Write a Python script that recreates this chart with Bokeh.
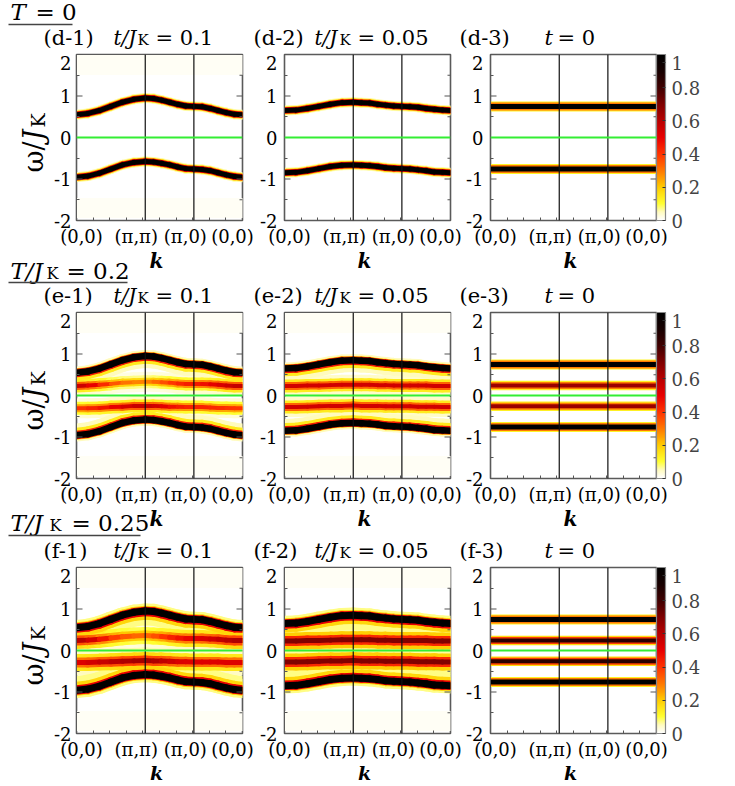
import numpy as np
from bokeh.plotting import figure
from bokeh.models import FixedTicker, Span, ColorBar, LinearColorMapper, ColumnDataSource
from bokeh.layouts import row, column
from bokeh.embed import file_html
from bokeh.resources import INLINE
from bokeh.core.properties import value

# ---------------- data ----------------
k_dist = [0, 0.236, 0.471, 0.707, 0.943, 1.179, 1.414, 1.581, 1.748, 1.914,
          2.081, 2.247, 2.414, 2.581, 2.748, 2.914, 3.081, 3.247, 3.414]
k_tick_pos = [0, 1.414, 2.414, 3.414]
k_tick_labels = ["(0,0)", "(π,π)", "(π,0)", "(0,0)"]
k_flat = [0, 3.414]

w_ticks = [-2, -1, 0, 1, 2]
w_tick_labels = ["-2", "-1", "0", "1", "2"]
w_minor = [-1.5, -0.5, 0.5, 1.5]
cb_ticks = [0, 0.2, 0.4, 0.6, 0.8, 1]
cb_tick_labels = ["0", "0.2", "0.4", "0.6", "0.8", "1"]

# outer (Kondo-split) bands
up_t01 = [0.55, 0.58, 0.65, 0.75, 0.85, 0.92, 0.95, 0.94, 0.90, 0.85,
          0.80, 0.76, 0.75, 0.74, 0.70, 0.65, 0.60, 0.56, 0.55]
lo_t01 = [-0.96, -0.93, -0.86, -0.76, -0.66, -0.60, -0.58, -0.59, -0.62, -0.66,
          -0.71, -0.75, -0.76, -0.77, -0.80, -0.85, -0.90, -0.94, -0.96]
up_t005 = [0.65, 0.66, 0.70, 0.75, 0.80, 0.84, 0.85, 0.84, 0.83, 0.80,
           0.78, 0.76, 0.75, 0.74, 0.73, 0.70, 0.68, 0.66, 0.65]
lo_t005 = [-0.85, -0.84, -0.80, -0.75, -0.70, -0.67, -0.66, -0.67, -0.68, -0.70,
           -0.73, -0.74, -0.75, -0.76, -0.78, -0.80, -0.83, -0.84, -0.85]
# thermally excited inner bands
in_up_e1 = [0.23, 0.24, 0.26, 0.28, 0.31, 0.32, 0.33, 0.33, 0.32, 0.31,
            0.29, 0.28, 0.28, 0.28, 0.27, 0.26, 0.24, 0.23, 0.23]
in_lo_e1 = [-0.31, -0.31, -0.30, -0.28, -0.27, -0.25, -0.25, -0.25, -0.26, -0.27,
            -0.27, -0.28, -0.28, -0.28, -0.29, -0.30, -0.30, -0.31, -0.31]
in_up_f1 = [0.24, 0.25, 0.27, 0.30, 0.33, 0.35, 0.36, 0.35, 0.34, 0.32,
            0.30, 0.29, 0.29, 0.29, 0.28, 0.27, 0.25, 0.24, 0.24]
in_lo_f1 = [-0.29, -0.29, -0.28, -0.27, -0.26, -0.25, -0.24, -0.25, -0.25, -0.26,
            -0.27, -0.27, -0.28, -0.28, -0.28, -0.28, -0.29, -0.29, -0.29]
in_up_t005 = [0.23, 0.23, 0.24, 0.24, 0.25, 0.26, 0.26, 0.26, 0.26, 0.25,
              0.25, 0.24, 0.24, 0.24, 0.24, 0.24, 0.23, 0.23, 0.23]
in_lo_t005 = [-0.28, -0.28, -0.27, -0.26, -0.25, -0.25, -0.24, -0.25, -0.25, -0.25,
              -0.26, -0.26, -0.26, -0.26, -0.27, -0.27, -0.27, -0.28, -0.28]
ghost_up = [1.75, 1.75]
ghost_lo = [-1.70, -1.70]
flat_up = [0.75, 0.75]
flat_lo = [-0.76, -0.76]
flat_in_up = [0.24, 0.24]
flat_in_lo = [-0.26, -0.26]

# spectral weights (0..1)
w_in_up_e1 = [0.58, 0.54, 0.46, 0.38, 0.32, 0.29, 0.28, 0.30, 0.34, 0.38,
              0.41, 0.44, 0.45, 0.46, 0.49, 0.52, 0.55, 0.57, 0.58]
w_in_lo_e1 = [0.40, 0.42, 0.45, 0.48, 0.52, 0.56, 0.58, 0.56, 0.53, 0.49,
              0.46, 0.44, 0.43, 0.43, 0.43, 0.42, 0.41, 0.40, 0.40]
w_in_up_f1 = [0.62, 0.58, 0.50, 0.42, 0.36, 0.33, 0.32, 0.34, 0.38, 0.42,
              0.45, 0.48, 0.50, 0.52, 0.54, 0.56, 0.59, 0.61, 0.62]
w_in_lo_f1 = [0.52, 0.53, 0.56, 0.58, 0.61, 0.63, 0.64, 0.63, 0.60, 0.57,
              0.54, 0.52, 0.52, 0.52, 0.52, 0.52, 0.52, 0.52, 0.52]
w_in_e2 = 0.55
w_in_f2 = 0.70
w_in_e3 = 0.65
w_in_f3 = 0.85
w_ghost = 0.006

row_letters = ["d", "e", "f"]
col_tvalues = ["0.1", "0.05", "0"]
row_Tvalues = ["0", "0.2", "0.25"]

# ---------------- styling ----------------
FONT = "DejaVu Serif"
FW, FH = 166, 166
XMAX = 3.414
BASE_SHIFT = 0.38   # text anchor correction (fraction of font size)
anchors = [(0.0, "#ffffff"), (0.05, "#fffbc0"), (0.1, "#ffff30"), (0.2, "#ffcc00"),
           (0.25, "#ffa000"), (0.3, "#ff7700"), (0.4, "#ff3300"), (0.5, "#e80000"),
           (0.6, "#b80000"), (0.7, "#800000"), (0.8, "#400000"), (0.9, "#180000"),
           (1.0, "#000000")]


def _hex(c):
    return [int(c[i:i + 2], 16) for i in (1, 3, 5)]


PAL = []
for i in range(256):
    v = i / 255
    for j in range(len(anchors) - 1):
        a, ca = anchors[j]
        b, cb = anchors[j + 1]
        if a <= v <= b:
            f = (v - a) / (b - a)
            A, B = _hex(ca), _hex(cb)
            PAL.append("#%02x%02x%02x" % tuple(int(round(A[m] + (B[m] - A[m]) * f)) for m in range(3)))
            break


def pal(v):
    return PAL[int(round(min(max(v, 0), 1) * 255))]


# layers: (line width px, fraction of weight, inward shift in omega)
STY = {
    "T0": [(10, 0.06, 0), (8, 0.18, 0), (6.5, 0.5, 0), (5, 1.0, 0)],
    "flat": [(10, 0.12, 0), (8, 0.3, 0), (5, 1.0, 0)],
    "flat_in": [(9.5, 0.2, 0), (7, 0.45, 0), (4, 1.0, 0)],
    "T02out": [(18, 0.05, 0.07), (12, 0.14, 0.04), (8.5, 0.45, 0.01), (6.5, 1.0, 0)],
    "T02in": [(20, 0.08, 0), (13, 0.25, 0), (8, 0.6, 0), (4, 1.0, 0)],
    "T025out": [(22, 0.07, 0.08), (14, 0.18, 0.04), (9.5, 0.5, 0.01), (7, 1.0, 0)],
    "T025in": [(26, 0.09, 0), (17, 0.28, 0), (10, 0.6, 0), (5, 1.0, 0)],
    "ghost": [(20, 1.0, 0)],
}

K = k_dist
panels = [
    [[(k_flat, ghost_up, w_ghost, "ghost"), (k_flat, ghost_lo, w_ghost, "ghost"),
      (K, up_t01, 1.0, "T0"), (K, lo_t01, 1.0, "T0")],
     [(K, up_t005, 1.0, "T0"), (K, lo_t005, 1.0, "T0")],
     [(k_flat, flat_up, 1.0, "flat"), (k_flat, flat_lo, 1.0, "flat")]],
    [[(k_flat, ghost_up, w_ghost, "ghost"), (k_flat, ghost_lo, w_ghost, "ghost"),
      (K, in_up_e1, w_in_up_e1, "T02in"), (K, in_lo_e1, w_in_lo_e1, "T02in"),
      (K, up_t01, 1.0, "T02out"), (K, lo_t01, 1.0, "T02out")],
     [(k_flat, ghost_up, w_ghost, "ghost"), (k_flat, ghost_lo, w_ghost, "ghost"),
      (K, in_up_t005, w_in_e2, "T02in"), (K, in_lo_t005, w_in_e2, "T02in"),
      (K, up_t005, 1.0, "T02out"), (K, lo_t005, 1.0, "T02out")],
     [(k_flat, flat_in_up, w_in_e3, "flat_in"), (k_flat, flat_in_lo, w_in_e3, "flat_in"),
      (k_flat, flat_up, 1.0, "flat"), (k_flat, flat_lo, 1.0, "flat")]],
    [[(k_flat, ghost_up, w_ghost, "ghost"), (k_flat, ghost_lo, w_ghost, "ghost"),
      (K, in_up_f1, w_in_up_f1, "T025in"), (K, in_lo_f1, w_in_lo_f1, "T025in"),
      (K, up_t01, 1.0, "T025out"), (K, lo_t01, 1.0, "T025out")],
     [(k_flat, ghost_up, w_ghost, "ghost"), (k_flat, ghost_lo, w_ghost, "ghost"),
      (K, in_up_t005, w_in_f2, "T025in"), (K, in_lo_t005, w_in_f2, "T025in"),
      (K, up_t005, 1.0, "T025out"), (K, lo_t005, 1.0, "T025out")],
     [(k_flat, flat_in_up, w_in_f3, "flat_in"), (k_flat, flat_in_lo, w_in_f3, "flat_in"),
      (k_flat, flat_up, 1.0, "flat"), (k_flat, flat_lo, 1.0, "flat")]],
]

# page geometry (pixels)
YLAB_W = 50
COL_LR = [(23, 12), (30, 12), (28, 52)]
COL_YSTANDOFF = [5, 7, 7]
COL_FL = [73, 281, 487]
ROW_TB = [(4, 29), (4, 29), (4, 29)]
ROW_FT = [54, 312, 567]
STRIPS = [(0, 50), (249, 59), (507, 56), (762, 23)]   # (top, height)
STRIP_W = 720
label_shift_px = [5, -9, -8.5, -10]
top_label_drop_px = 8


def draw_bands(p, bands):
    layers = []
    for kx, om, w, sty in bands:
        n = len(om)
        ws = w if isinstance(w, list) else [w] * n
        sgn = 1 if sum(om) > 0 else -1
        for lw, frac, shift in STY[sty]:
            d = dict(x0=kx[:-1], x1=kx[1:],
                     y0=[o - sgn * shift for o in om[:-1]],
                     y1=[o - sgn * shift for o in om[1:]],
                     c=[pal(frac * 0.5 * (ws[i] + ws[i + 1])) for i in range(n - 1)])
            layers.append((lw, d))
    layers.sort(key=lambda t: -t[0])
    for lw, d in layers:
        p.segment("x0", "y0", "x1", "y1", source=ColumnDataSource(d),
                  line_color="c", line_width=lw, line_cap="round")


def make_panel(r, c):
    lb, rb = COL_LR[c]
    tb, bb = ROW_TB[r]
    p = figure(frame_width=FW, frame_height=FH, x_range=(0, XMAX), y_range=(-2, 2),
               min_border_left=lb, min_border_right=rb, min_border_top=tb,
               min_border_bottom=bb, toolbar_location=None, output_backend="svg")
    p.grid.visible = False
    p.outline_line_color = "#5a5a5a"
    p.outline_line_width = 1.6
    p.background_fill_color = "white"
    p.border_fill_color = "white"

    draw_bands(p, panels[r][c])
    for kp in k_tick_pos[1:3]:
        p.add_layout(Span(location=kp, dimension="height", line_color="#111111", line_width=1.2))
    p.add_layout(Span(location=0, dimension="width", line_color="#33ee33", line_width=2))

    # inward tick marks on both vertical edges
    ml = 6 / FW * XMAX
    n, m = len(w_ticks), len(w_minor)
    p.segment(x0=[XMAX - ml] * n + [0] * n, x1=[XMAX] * n + [ml] * n,
              y0=w_ticks * 2, y1=w_ticks * 2, line_color="#555555", line_width=1.2)
    p.segment(x0=[XMAX - ml / 2] * m, x1=[XMAX] * m, y0=w_minor, y1=w_minor,
              line_color="#555555", line_width=1.2)

    xa = p.xaxis[0]
    lab_pos = [k_tick_pos[i] + label_shift_px[i] * XMAX / FW for i in range(4)]
    xa.ticker = FixedTicker(ticks=lab_pos, minor_ticks=[i * XMAX / 10 for i in range(1, 10)])
    xa.major_label_overrides = dict(zip(lab_pos, k_tick_labels))
    ya = p.yaxis[0]
    ylab_pos = w_ticks[:-1] + [w_ticks[-1] - top_label_drop_px * 4 / FH]
    ya.ticker = FixedTicker(ticks=ylab_pos, minor_ticks=w_minor)
    ya.major_label_overrides = dict(zip(ylab_pos, w_tick_labels))
    for ax in (xa, ya):
        ax.axis_line_color = "#5a5a5a"
        ax.major_tick_in = 0
        ax.major_tick_out = 0
        ax.minor_tick_in = 3
        ax.minor_tick_out = 0
        ax.minor_tick_line_color = "#555555"
        ax.major_label_text_font = FONT
        ax.major_label_text_font_size = "18px"
        ax.major_label_text_color = "#000000"
    xa.major_label_standoff = 5
    ya.major_label_standoff = COL_YSTANDOFF[c]

    if c == 2:
        mapper = LinearColorMapper(palette=PAL, low=0, high=1)
        cb_pos = cb_ticks[:-1] + [cb_ticks[-1] - top_label_drop_px / FH]
        cbar = ColorBar(color_mapper=mapper, ticker=FixedTicker(ticks=cb_pos),
                        major_label_overrides=dict(zip(cb_pos, cb_tick_labels)),
                        width=9, height=FH, padding=0, margin=4,
                        bar_line_color="#888888", bar_line_width=1.2,
                        major_tick_line_color="#333333", major_tick_in=3, major_tick_out=0,
                        minor_tick_line_color=None, label_standoff=6,
                        major_label_text_font=FONT, major_label_text_font_size="18px",
                        background_fill_alpha=0, border_line_color=None)
        p.add_layout(cbar, "right")
    return p


def make_strip(W, H):
    s = figure(frame_width=W, frame_height=H, x_range=(0, W), y_range=(0, H),
               min_border=0, x_axis_location=None, y_axis_location=None,
               toolbar_location=None, output_backend="svg")
    s.grid.visible = False
    s.outline_line_color = None
    s.background_fill_color = "white"
    s.border_fill_color = "white"
    return s


def put(s, x0, y0, H, px, py, text, size, style="normal", align="left", angle=0.0):
    if angle == 0.0:
        py = py - BASE_SHIFT * size
    else:
        px = px - BASE_SHIFT * size
    s.text(x=[px - x0], y=[H - (py - y0)], text=[text], text_font=value(FONT),
           text_font_size=value("%dpx" % size), text_font_style=style,
           text_align=align, text_baseline="alphabetic", angle=angle, text_color="#000000")


def uline(s, y0, H, xa, xb, py):
    s.segment(x0=[xa], x1=[xb], y0=[H - (py - y0)], y1=[H - (py - y0)],
              line_color="#444444", line_width=1.5)


strips = [make_strip(STRIP_W, h) for (_, h) in STRIPS]


def titles(si, r):
    y0, H = STRIPS[si]
    s = strips[si]
    base = ROW_FT[r] - 9
    for c in range(3):
        FL = COL_FL[c]
        put(s, 0, y0, H, FL - [30, 28, 28][c], base, "(%s-%d)" % (row_letters[r], c + 1), 21)
        if c < 2:
            a, b, d = [(40, 64, 82), (33, 58, 76)][c]
            put(s, 0, y0, H, FL + a, base, "t/J", 20, "italic")
            put(s, 0, y0, H, FL + b, base, "K", 15)
            put(s, 0, y0, H, FL + d, base, "= " + col_tvalues[c], 21)
        else:
            put(s, 0, y0, H, FL + 57, base, "t", 21, "italic")
            put(s, 0, y0, H, FL + 70, base, "= " + col_tvalues[c], 21)


def klabels(si, base, size=20):
    y0, H = STRIPS[si]
    for c in range(3):
        put(strips[si], 0, y0, H, COL_FL[c] + FW / 2, base, "k", size, "bold italic",
            align="center")


def header(si, r, base, ul, ulx, kx_=47, ex_=67):
    y0, H = STRIPS[si]
    s = strips[si]
    if r == 0:
        put(s, 0, y0, H, 10, base, "T", 23, "italic")
        put(s, 0, y0, H, 35, base, "= " + row_Tvalues[r], 23)
    else:
        put(s, 0, y0, H, 10, base, "T/J", 23, "italic")
        put(s, 0, y0, H, kx_, base, "K", 16)
        put(s, 0, y0, H, ex_, base, "= " + row_Tvalues[r], 23)
    uline(s, y0, H, 8, ulx, ul)


header(0, 0, 20, 24, 72)
titles(0, 0)
klabels(1, 268)
header(1, 1, 279, 282, 127, 46, 66)
titles(1, 1)
klabels(2, 526)
header(2, 2, 531, 535, 140, 49, 71)
titles(2, 2)
klabels(3, 780, 19)

rows = []
for r in range(3):
    tb, bb = ROW_TB[r]
    Hrow = tb + FH + bb
    top = ROW_FT[r] - tb
    yl = make_strip(YLAB_W, Hrow)
    FT = ROW_FT[r]
    put(yl, 0, top, Hrow, 43.5, FT + 114, "ω/", 27, angle=np.pi / 2)
    put(yl, 0, top, Hrow, 43.5, FT + 82, "J", 27, "italic", angle=np.pi / 2)
    put(yl, 0, top, Hrow, 45, FT + 69, "K", 19, angle=np.pi / 2)
    rows.append(row(yl, *[make_panel(r, c) for c in range(3)]))

layout = column(strips[0], rows[0], strips[1], rows[1], strips[2], rows[2], strips[3])
open("out.html", "w").write(file_html(layout, INLINE))
